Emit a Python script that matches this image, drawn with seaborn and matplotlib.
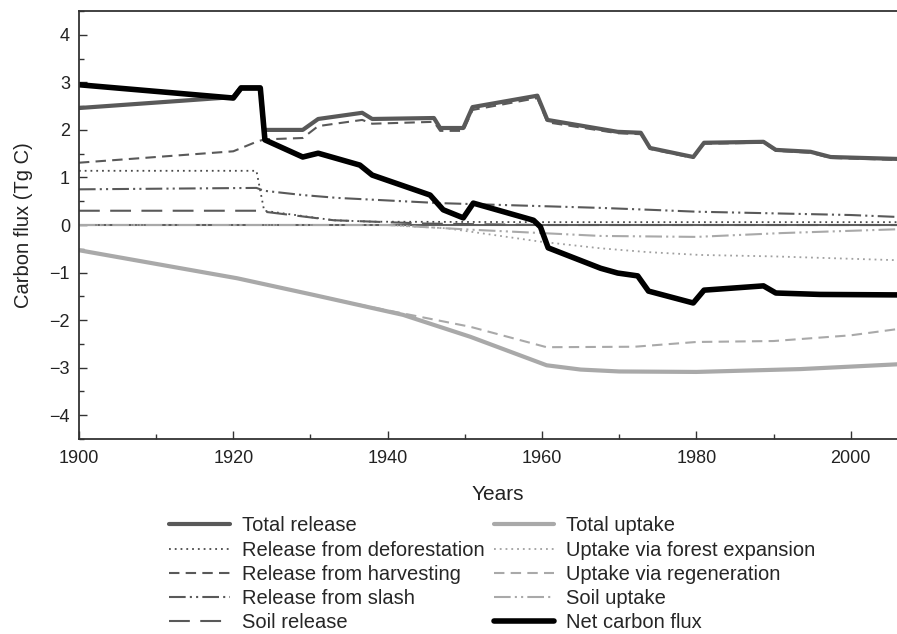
import numpy as np
import pandas as pd
import matplotlib
matplotlib.use('Agg')
import matplotlib.pyplot as plt
from matplotlib.ticker import MultipleLocator
import seaborn as sns

# Values (Tg C per year)
release_years = [1900, 1920, 1921, 1923.5, 1924, 1929, 1931, 1936.7, 1938, 1946,
                 1946.8, 1949.8, 1951, 1959.4, 1960.7, 1969.8, 1972.8, 1974,
                 1979.6, 1981, 1988.7, 1990.3, 1994.8, 1997.4, 2001.7, 2006]
total_release = [2.46, 2.69, 2.9, 2.9, 2.0, 2.0, 2.23, 2.36, 2.23, 2.25,
                 2.04, 2.04, 2.48, 2.72, 2.21, 1.96, 1.94, 1.62,
                 1.43, 1.73, 1.75, 1.58, 1.54, 1.43, 1.41, 1.39]

harvest_years = [1900, 1920, 1923, 1924, 1929, 1931, 1936.7, 1938, 1946, 1946.8,
                 1949.8, 1951, 1959.4, 1960.7, 1969.8, 1972.8, 1974, 1979.6,
                 1981, 1988.7, 1990.3, 1994.8, 1997.4, 2001.7, 2006]
harvesting = [1.31, 1.55, 1.75, 1.8, 1.83, 2.08, 2.21, 2.13, 2.17, 1.98,
              1.98, 2.42, 2.67, 2.16, 1.93, 1.91, 1.6, 1.41,
              1.71, 1.73, 1.56, 1.52, 1.41, 1.39, 1.37]

deforest_years = [1900, 1923, 1924, 1933, 1938, 1960, 2006]
deforestation = [1.14, 1.14, 0.3, 0.1, 0.07, 0.06, 0.06]

slash_years = [1900, 1923, 1924, 1929, 1933.5, 1946.8, 1967.6, 1974, 1980, 2000, 2006]
slash = [0.75, 0.78, 0.72, 0.63, 0.57, 0.46, 0.36, 0.32, 0.28, 0.21, 0.17]

soil_rel_years = [1900, 1923.5, 1924, 1933, 1945, 1960, 2006]
soil_release = [0.3, 0.3, 0.28, 0.1, 0.03, 0.0, 0.0]

uptake_years = [1900, 1920.5, 1930.4, 1942, 1950.7, 1960.6, 1965, 1970, 1980, 1993.5, 2006]
total_uptake = [-0.53, -1.12, -1.47, -1.89, -2.35, -2.95, -3.04, -3.08, -3.09, -3.03, -2.93]

regen_years = [1900, 1920.5, 1930.4, 1938, 1942, 1950.7, 1960.6, 1972, 1980, 1990, 2000, 2006]
regeneration = [-0.53, -1.12, -1.47, -1.73, -1.86, -2.14, -2.57, -2.56, -2.46, -2.44, -2.32, -2.19]

expansion_years = [1900, 1940, 1947.7, 1959.8, 1967.6, 1973.7, 1980.5, 1990, 2006]
expansion = [0, 0, -0.07, -0.35, -0.49, -0.57, -0.63, -0.66, -0.74]

soil_up_years = [1900, 1940, 1951, 1960, 1967.6, 1980, 1991, 2006]
soil_uptake = [0, 0, -0.1, -0.17, -0.23, -0.25, -0.17, -0.09]

net_years = [1900, 1920, 1921, 1923.5, 1924.1, 1929, 1931, 1936.4, 1938, 1945.5,
             1947.2, 1949.8, 1951.1, 1958.9, 1959.8, 1960.8, 1967.6, 1969.8,
             1972.4, 1973.8, 1979.6, 1981, 1988.7, 1990.3, 1996, 2006]
net_flux = [2.95, 2.67, 2.88, 2.88, 1.79, 1.43, 1.51, 1.26, 1.05, 0.63,
            0.32, 0.15, 0.46, 0.1, -0.04, -0.48, -0.91, -1.01,
            -1.07, -1.39, -1.64, -1.37, -1.28, -1.43, -1.46, -1.47]

#%%

sns.set_style('ticks')
plt.rcParams['font.family'] = ['Liberation Sans', 'DejaVu Sans']

fig = plt.figure(figsize=(8.97, 6.34), dpi=100)
ax = fig.add_axes([0.088, 0.3076, 0.912, 0.675])

dark = '#595959'
light = '#a9a9a9'

# (years, values, label, color, linewidth, linestyle)
series = [
    (release_years, total_release, 'Total release', dark, 3.0, '-'),
    (deforest_years, deforestation, 'Release from deforestation', '#4a4a4a', 1.3, (0, (1, 2.2))),
    (harvest_years, harvesting, 'Release from harvesting', dark, 1.5, (0, (5, 3))),
    (slash_years, slash, 'Release from slash', dark, 1.5, (0, (8, 2, 1, 2, 1, 2))),
    (soil_rel_years, soil_release, 'Soil release', dark, 1.5, (0, (10, 5))),
    (uptake_years, total_uptake, 'Total uptake', light, 3.0, '-'),
    (expansion_years, expansion, 'Uptake via forest expansion', '#a0a0a0', 1.3, (0, (1, 2.2))),
    (regen_years, regeneration, 'Uptake via regeneration', light, 1.5, (0, (5, 3))),
    (soil_up_years, soil_uptake, 'Soil uptake', light, 1.5, (0, (8, 2, 1, 2, 1, 2))),
    (net_years, net_flux, 'Net carbon flux', 'black', 4.0, '-'),
]

# zero reference line
ax.axhline(0, color='#606060', linewidth=1.5, zorder=1)

for years, values, label, color, lw, ls in series:
    df = pd.DataFrame({'year': years, 'flux': values})
    sns.lineplot(data=df, x='year', y='flux', ax=ax, color=color,
                 linewidth=lw, linestyle=ls, label=label, legend=False)

ax.set_xlim(1900, 2006)
ax.set_ylim(-4.5, 4.5)
ax.xaxis.set_major_locator(MultipleLocator(20))
ax.xaxis.set_minor_locator(MultipleLocator(10))
ax.yaxis.set_major_locator(MultipleLocator(1))
ax.yaxis.set_minor_locator(MultipleLocator(0.5))
ax.tick_params(which='both', direction='in', colors='#333333', labelcolor='#222222',
               labelsize=13, width=1)
ax.tick_params(which='major', length=6)
ax.tick_params(which='minor', length=3.5)
ax.tick_params(axis='x', pad=8)
ax.tick_params(axis='y', pad=6.5)

for side in ['left', 'bottom', 'top']:
    ax.spines[side].set_color('#333333')
    ax.spines[side].set_linewidth(1.3)
ax.spines['right'].set_visible(False)

ax.set_xlabel('Years', fontsize=15, color='#222222')
ax.xaxis.set_label_coords(0.512, -0.107)
ax.set_ylabel('Carbon flux (Tg C)', fontsize=14.5, color='#222222', labelpad=12)

handles, labels = ax.get_legend_handles_labels()
fig.legend(handles, labels, ncol=2, loc='upper center',
           bbox_to_anchor=(0.549, 0.214), frameon=False, fontsize=14.5,
           handlelength=3.0, handletextpad=0.6, columnspacing=0.45,
           labelspacing=0.26)

fig.savefig('out.png', dpi=100)
